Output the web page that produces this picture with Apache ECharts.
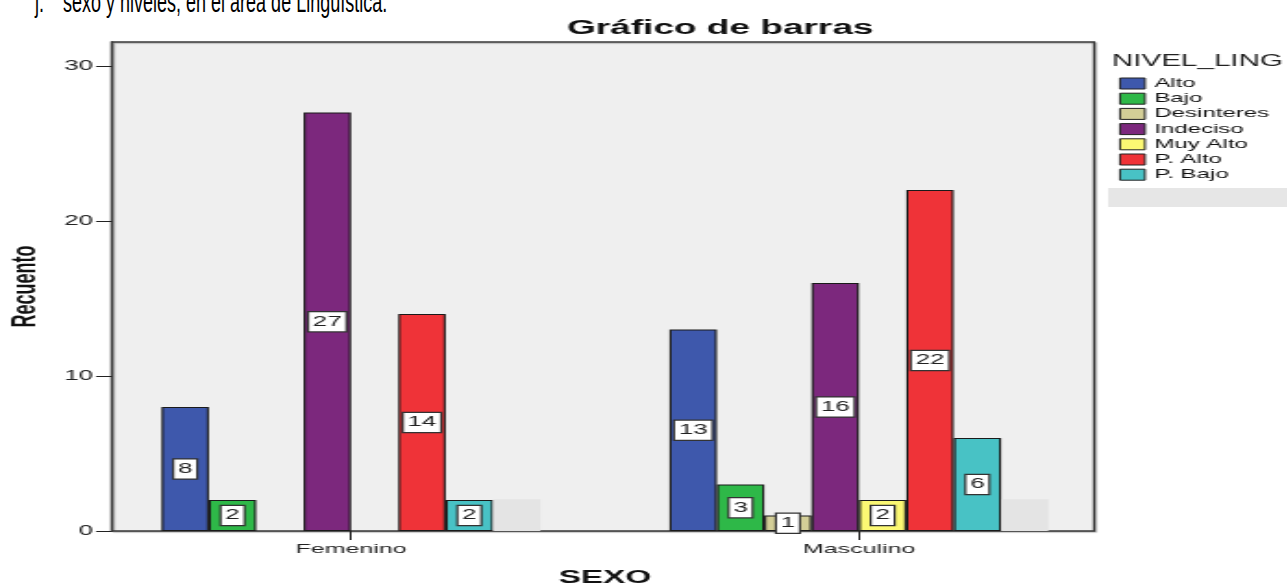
<!DOCTYPE html>
<html>
<head>
<meta charset="utf-8">
<script src="https://cdn.jsdelivr.net/npm/echarts@6/dist/echarts.min.js"></script>
<style>
  html, body { margin: 0; padding: 0; background: #fff; width: 1287px; height: 586px; overflow: hidden; }
  #doc { position: absolute; left: 35px; top: -4px; font: 18px "Liberation Sans", Arial, sans-serif; line-height: 20px; color: #000; white-space: nowrap; transform: scaleY(1.6); transform-origin: 0 16px; }
  #doc .t { margin-left: 19px; }
  /* the chart is laid out narrow and widened horizontally */
  #chart { position: absolute; left: 0; top: 0; width: 696px; height: 586px; transform: scaleX(1.85); transform-origin: 0 0; }
</style>
</head>
<body>
<div id="doc"><span>j.</span><span class="t">sexo y niveles, en el área de Lingüística.</span></div>
<div id="chart"></div>
<script>
const categories = ['Femenino', 'Masculino'];
const levels = ['Alto', 'Bajo', 'Desinteres', 'Indeciso', 'Muy Alto', 'P. Alto', 'P. Bajo'];
const alto = [8, 13];
const bajo = [2, 3];
const desinteres = ['-', 1];
const indeciso = [27, 16];
const muyAlto = ['-', 2];
const pAlto = [14, 22];
const pBajo = [2, 6];
const sinNivel = [2.05, 2.05];
const yTicks = [0, 10, 20, 30];
const yMax = 31.55;

const colors = ['#3e58ac', '#2eb848', '#d3ce97', '#7c287d', '#fbf873', '#ef3338', '#48c2c5'];
const FONT = '"Liberation Sans", Arial, sans-serif';
const BAR_W = 25.6;

const counts = [alto, bajo, desinteres, indeciso, muyAlto, pAlto, pBajo];

const series = levels.map((name, i) => ({
  name: name,
  type: 'bar',
  xAxisIndex: 1,
  yAxisIndex: 1,
  data: counts[i],
  barWidth: BAR_W,
  barGap: '0%',
  itemStyle: { color: colors[i], borderColor: '#1a1a1a', borderWidth: 1.1 },
  label: {
    show: true,
    position: 'inside',
    formatter: p => String(p.value),
    backgroundColor: '#fff',
    borderColor: '#333',
    borderWidth: 1.2,
    padding: [3, 2, 2, 2],
    color: '#222',
    fontSize: 14,
    fontFamily: FONT
  },
  emphasis: { disabled: true }
}));

series.push({
  name: '',
  type: 'bar',
  xAxisIndex: 1,
  yAxisIndex: 1,
  data: sinNivel,
  barWidth: BAR_W,
  barGap: '0%',
  itemStyle: { color: '#e4e4e4' },
  silent: true
});

const chart = echarts.init(document.getElementById('chart'), null, { renderer: 'canvas' });
chart.setOption({
  animation: false,
  textStyle: { fontFamily: FONT },
  title: [
    { text: 'Gráfico de barras', left: 306.5, top: 18, padding: 0,
      textStyle: { fontSize: 20, fontWeight: 'bold', color: '#111', fontFamily: FONT } },
    { text: 'NIVEL_LING', left: 601, top: 54, padding: 0,
      textStyle: { fontSize: 16, fontWeight: 'normal', color: '#222', fontFamily: FONT } }
  ],
  legend: {
    orient: 'vertical',
    left: 604.9,
    top: 77,
    padding: 0,
    itemWidth: 13.5,
    itemHeight: 11,
    itemGap: 2.2,
    selectedMode: false,
    data: levels,
    icon: 'rect',
    itemStyle: { borderColor: '#222', borderWidth: 1 },
    textStyle: { fontSize: 13, color: '#111', fontFamily: FONT }
  },
  graphic: [
    { type: 'rect', shape: { x: 599, y: 188, width: 97, height: 19 }, style: { fill: '#e6e6e6' }, silent: true }
  ],
  grid: [
    { left: 60.5, top: 42, width: 530.9, height: 489, show: true, outerBoundsMode: 'none', containLabel: false,
      backgroundColor: '#efefef', borderColor: '#3a3a3a', borderWidth: 1.3,
      shadowColor: 'rgba(0,0,0,0.25)', shadowOffsetX: 1, shadowOffsetY: 1, shadowBlur: 1 },
    { left: 52.4, top: 42, width: 549.2, height: 489, outerBoundsMode: 'none', containLabel: false }
  ],
  xAxis: [
    { gridIndex: 0, type: 'value', show: false },
    {
      gridIndex: 1,
      type: 'category',
      data: categories,
      axisLine: { show: false },
      axisTick: { show: true, alignWithLabel: true, length: 9, lineStyle: { color: '#222', width: 1 } },
      axisLabel: { fontSize: 13.5, margin: 11, color: '#222', fontFamily: FONT },
      splitLine: { show: false },
      name: 'SEXO',
      nameLocation: 'middle',
      nameGap: 38,
      nameTextStyle: { fontSize: 18, fontWeight: 'bold', color: '#111', fontFamily: FONT }
    }
  ],
  yAxis: [
    {
      gridIndex: 0,
      type: 'value',
      min: 0,
      max: yMax,
      axisLine: { show: true, lineStyle: { color: '#3a3a3a', width: 1.3 } },
      axisTick: { show: true, customValues: yTicks, length: 8.6, lineStyle: { color: '#222', width: 1 } },
      axisLabel: { customValues: yTicks, margin: 10.2, fontSize: 14, color: '#222', fontFamily: FONT },
      splitLine: { show: false },
      name: 'Recuento',
      nameLocation: 'middle',
      nameGap: 37,
      nameTextStyle: { fontSize: 18, fontWeight: 'bold', color: '#111', fontFamily: FONT }
    },
    { gridIndex: 1, type: 'value', min: 0, max: yMax, show: false }
  ],
  series: series
});
</script>
</body>
</html>
